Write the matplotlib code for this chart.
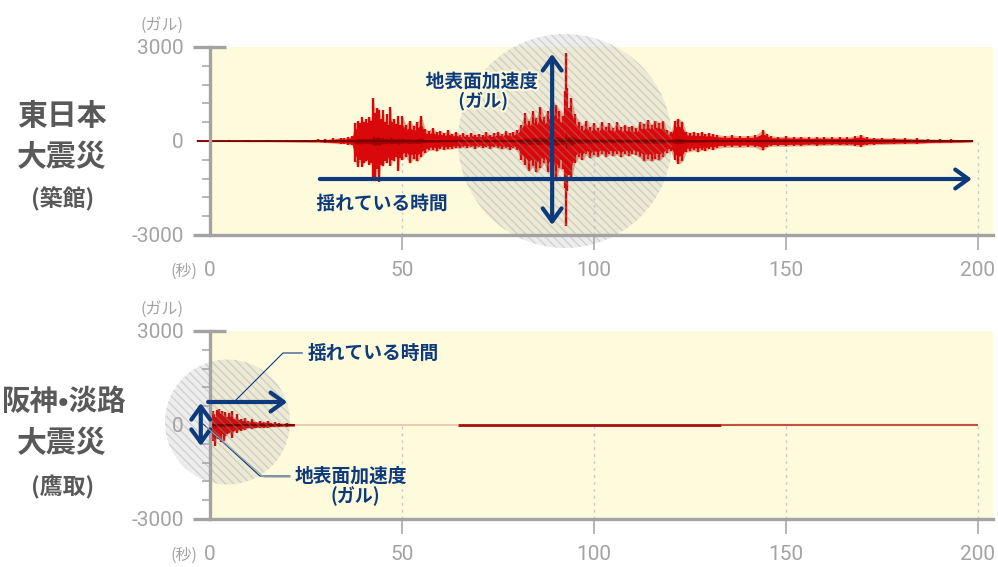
import matplotlib
matplotlib.use("Agg")
import matplotlib.pyplot as plt
import numpy as np
from matplotlib.patches import Ellipse
import matplotlib.patheffects as pe

# ---------------- data ----------------
# 2011 Tohoku (Tsukidate) : envelope of ground acceleration (gal)
east_t = [-3, 0, 5, 10, 15, 20, 25, 28, 30, 32, 34, 35, 36, 37, 37.8, 38.5, 39, 39.5, 40, 40.5,
          41, 41.5, 42, 42.5, 43, 43.5, 44, 44.5, 45, 45.5, 46, 46.5, 47, 47.5, 48, 48.5, 49, 49.5,
          50, 51, 52, 53, 54, 55, 56, 57, 58, 59, 60, 61, 62, 63, 64, 65, 66, 67, 68, 69, 70,
          71, 72, 73, 74, 75, 76, 77, 78, 79, 80, 81, 82, 83, 84, 85, 86, 87, 88, 89, 90, 91,
          92, 92.4, 92.55, 92.7, 92.85, 93.0, 93.5, 94, 95, 96, 97, 98, 99, 100, 101, 102, 103,
          104, 105, 106, 107, 108, 109, 110, 111, 112, 113, 114, 115, 116, 117, 118, 119, 120,
          121, 122, 123, 124, 125, 126, 127, 128, 129, 130, 131, 132, 134, 136, 138, 140, 142,
          144, 145, 146, 148, 150, 152, 154, 156, 158, 160, 162, 164, 166, 168, 169.5, 171, 173,
          175, 178, 181, 184, 187, 190, 193, 196, 198.5]
east_up = [20, 20, 20, 25, 25, 30, 35, 50, 60, 80, 110, 90, 130, 150, 560, 650, 560, 780, 600, 700,
           560, 780, 650, 1360, 900, 1050, 1000, 700, 1000, 600, 850, 500, 1090, 600, 700, 550, 800, 500,
           800, 520, 650, 480, 600, 800, 380, 330, 420, 280, 330, 250, 340, 230, 280, 200, 250, 180,
           260, 200, 230, 190, 280, 200, 240, 300, 210, 330, 240, 280, 350, 520, 880, 650, 950, 720,
           1100, 780, 950, 1300, 1150, 950, 800, 700, 1600, 2800, 1700, 800, 1050, 1360, 850, 620,
           480, 650, 450, 580, 420, 620, 460, 560, 420, 600, 440, 520, 450, 480, 400, 620, 550, 660,
           520, 650, 580, 640, 350, 300, 650, 700, 620, 300, 270, 290, 240, 280, 230, 260, 220, 200,
           170, 180, 160, 170, 180, 350, 230, 160, 140, 150, 130, 140, 120, 130, 130, 120, 130, 120,
           150, 200, 120, 110, 100, 100, 90, 80, 70, 60, 50, 40, 30]
east_dn = [20, 20, 20, 25, 25, 30, 35, 40, 50, 70, 90, 80, 120, 130, 660, 820, 600, 820, 700, 650,
           600, 750, 700, 1190, 1250, 900, 1300, 750, 800, 650, 700, 550, 800, 600, 650, 500, 950, 550,
           600, 500, 700, 560, 650, 500, 380, 300, 280, 330, 240, 280, 260, 250, 220, 230, 200, 220,
           190, 240, 180, 220, 200, 250, 190, 220, 260, 230, 280, 220, 300, 600, 750, 950, 800, 1000,
           850, 700, 1000, 900, 1250, 850, 900, 600, 1500, 2700, 1600, 700, 1100, 1250, 700, 520,
           600, 430, 550, 450, 500, 400, 520, 430, 480, 420, 520, 420, 480, 400, 450, 520, 650, 580,
           640, 560, 620, 500, 380, 320, 600, 720, 650, 350, 330, 300, 350, 280, 320, 250, 280, 230,
           200, 190, 200, 180, 200, 300, 200, 170, 160, 170, 150, 160, 140, 150, 140, 130, 140, 140,
           150, 180, 130, 120, 110, 100, 90, 90, 70, 60, 55, 45, 30]

# 1995 Kobe (Takatori)
kobe_t = [0, 0.3, 0.7, 1.0, 1.3, 1.7, 2.0, 2.4, 2.8, 3.2, 3.6, 4.0, 4.5, 5.0, 5.7, 6.2, 7.0, 7.5,
          8.0, 9.0, 10.0, 11.0, 12.0, 13.0, 14.0, 15.0, 16.0, 17.0, 18.0, 20.0, 22.0]
kobe_up = [0, 300, 450, 350, 250, 480, 300, 500, 350, 450, 300, 420, 250, 380, 450, 200, 340, 150,
           200, 230, 120, 180, 100, 130, 110, 130, 70, 80, 60, 70, 40]
kobe_dn = [0, 200, 500, 400, 670, 350, 450, 400, 550, 300, 500, 350, 300, 250, 400, 200, 250, 150,
           180, 150, 100, 130, 80, 90, 80, 80, 60, 60, 50, 50, 40]
kobe_tail_t = [22, 64.5, 133, 200]
kobe_tail_colors = ["#e2bf9f", "#a31010", "#c65040"]
kobe_tail_lw = [1.1, 2.0, 1.5]

x_ticks = [0, 50, 100, 150, 200]
y_ticks = [-3000, 0, 3000]
y_minor = [-2400, -1800, -1200, -600, 0, 600, 1200, 1800, 2400]

# ---------------- style ----------------
W, H = 998, 567
BG = "#fefadc"
GRAY = "#a3a3a3"
NAVY = "#0c3a7d"
TITLE = "#595959"
RED = "#d9080b"
CJK = ["Noto Sans CJK JP", "DejaVu Sans"]
NUM = ["Roboto", "DejaVu Sans"]

fig = plt.figure(figsize=(W / 100, H / 100), dpi=100)
fig.patch.set_facecolor("white")


def px(x, y):
    return x / W, 1 - y / H


def make_axes(top_px):
    left = 210 / W
    width = (993 - 210) / W
    height = 188 / H
    bottom = 1 - (top_px + 188) / H
    ax = fig.add_axes([left, bottom, width, height])
    ax.set_facecolor(BG)
    ax.set_xlim(0, 783 / 3.84)
    ax.set_ylim(-3000, 3000)
    for s in ["top", "right"]:
        ax.spines[s].set_visible(False)
    for s in ["left", "bottom"]:
        ax.spines[s].set_color(GRAY)
        ax.spines[s].set_linewidth(2.4)
        ax.spines[s].set_zorder(6)
    ax.set_xticks(x_ticks)
    ax.set_xticklabels([str(v) for v in x_ticks], fontfamily=NUM, fontsize=15, color=GRAY)
    ax.tick_params(axis="x", length=11, width=1.1, color=GRAY, pad=8)
    ax.xaxis.get_major_ticks()[0].tick1line.set_visible(False)
    ax.set_yticks(y_ticks)
    ax.set_yticklabels([str(v) for v in y_ticks], fontfamily=NUM, fontsize=15, color=GRAY)
    ax.tick_params(axis="y", length=0, pad=19)
    ax.set_yticks(y_minor, minor=True)
    ax.tick_params(axis="y", which="minor", length=5.5, width=1.1, color=GRAY)
    # dotted guide lines
    ax.vlines(x_ticks[1:], -3000, 0, colors="#c9c9c9", linestyles=(0, (2, 3)), lw=1, zorder=1)
    # extended top tick and bottom spine stub
    ax.plot([-17 / 3.84, 16 / 3.84], [3000, 3000], color=GRAY, lw=2.4, clip_on=False,
            solid_capstyle="butt", zorder=6)
    ax.plot([-17 / 3.84, 0], [-3000, -3000], color=GRAY, lw=2.4, clip_on=False,
            solid_capstyle="butt", zorder=6)
    ax.text(-27 / 3.84, 3000 + 22 / 0.03133, "(ガル)", fontfamily=CJK, fontsize=11.5,
            color=GRAY, ha="right", va="center")
    ax.text(-13 / 3.84, -3000 - 36 / 0.03133, "(秒)", fontfamily=CJK, fontsize=11.5,
            color=GRAY, ha="right", va="center", clip_on=False)
    return ax


def draw_wave(ax, t, up, dn, core=RED):
    t = np.asarray(t, float)
    up = np.asarray(up, float)
    dn = np.asarray(dn, float)
    ax.fill_between(t, -dn * 1.03, up * 1.03, color="#b84a2a", alpha=0.45, lw=0, zorder=2,
                    clip_on=False)
    ax.fill_between(t, -dn * 0.68, up * 0.68, color=core, lw=0, zorder=3, clip_on=False)
    ax.vlines(t, -dn, up, color=core, lw=1.7, zorder=3, clip_on=False)
    ax.fill_between(t, -dn * 0.12, up * 0.12, color="#8a0000", lw=0, alpha=0.7, zorder=3,
                    clip_on=False)
    ax.plot([t[0], t[-1]], [0, 0], color="#7a0000", lw=1.3, zorder=4, clip_on=False)


def halo():
    return [pe.withStroke(linewidth=3, foreground=BG)]


def add_circle(ax, center, rx, ry):
    # grey disc sits under the waveform, hatch lines run over it
    ax.add_patch(Ellipse(center, rx, ry, facecolor="#c4c4c4", alpha=0.3,
                         edgecolor="none", zorder=1.5, clip_on=False))
    ax.add_patch(Ellipse(center, rx, ry, facecolor="none",
                         edgecolor=(0.62, 0.62, 0.62, 0.35), lw=0, hatch="\\\\\\\\", zorder=5,
                         clip_on=False))


# ---------------- top panel ----------------
ax1 = make_axes(47)
draw_wave(ax1, east_t, east_up, east_dn)
add_circle(ax1, ((565 - 210) / 3.84, 0), 2 * 107 / 3.84, 2 * 107 / 0.03133)

arrow = dict(arrowstyle="->,head_length=0.47,head_width=0.34", color=NAVY, lw=3,
             shrinkA=0, shrinkB=0, mutation_scale=20)
arrow2 = dict(arrow, arrowstyle="<->,head_length=0.47,head_width=0.34")
ax1.annotate("", xy=(198.4, -1213), xytext=(28.6, -1213), arrowprops=arrow,
             annotation_clip=False, zorder=7)
ax1.annotate("", xy=(89.1, 2780), xytext=(89.1, -2680), arrowprops=arrow2,
             annotation_clip=False, zorder=7)
ax1.text(70.8, 1883, "地表面加速度", fontfamily=CJK, fontsize=13.5, fontweight="bold",
         color=NAVY, ha="center", va="center", zorder=8, path_effects=halo())
ax1.text(71.1, 1277, "(ガル)", fontfamily=CJK, fontsize=13, fontweight="bold",
         color=NAVY, ha="center", va="center", zorder=8, path_effects=halo())
ax1.text(44.8, -2011, "揺れている時間", fontfamily=CJK, fontsize=13.5, fontweight="bold",
         color=NAVY, ha="center", va="center", zorder=8, path_effects=halo())

# ---------------- bottom panel ----------------
ax2 = make_axes(331)
draw_wave(ax2, kobe_t, kobe_up, kobe_dn, core="#c81010")
for i in range(len(kobe_tail_colors)):
    ax2.plot(kobe_tail_t[i:i + 2], [0, 0], color=kobe_tail_colors[i], lw=kobe_tail_lw[i],
             zorder=3, solid_capstyle="butt")
add_circle(ax2, ((227.5 - 210) / 3.84, (424 - 421) / 0.03133), 2 * 62.5 / 3.84,
           2 * 62.5 / 0.03133)

ax2.annotate("", xy=(20.1, 734), xytext=(-0.5, 734), arrowprops=arrow,
             annotation_clip=False, zorder=7)
ax2.annotate("", xy=(-2.4, 702), xytext=(-2.4, -670), arrowprops=arrow2,
             annotation_clip=False, zorder=7)
# leader lines
ax2.plot([6.5, 19.0, 24.0], [766, 2298, 2298], color=NAVY, lw=0.8, clip_on=False, zorder=7)
ax2.plot([-1.8, 13.0, 20.8], [32, -1628, -1628], color=NAVY, lw=0.8, clip_on=False, zorder=7)
ax2.plot([-1.0, 14.0, 20.8], [-60, -1660, -1660], color="#9aa0aa", lw=0.8, clip_on=False, zorder=7)
ax2.text(25.5, 2298, "揺れている時間", fontfamily=CJK, fontsize=13.5, fontweight="bold",
         color=NAVY, ha="left", va="center", zorder=8)
ax2.text(22.1, -1628, "地表面加速度", fontfamily=CJK, fontsize=13.5, fontweight="bold",
         color=NAVY, ha="left", va="center", zorder=8)
ax2.text(37.8, -2266, "(ガル)", fontfamily=CJK, fontsize=13, fontweight="bold",
         color=NAVY, ha="center", va="center", zorder=8)

# ---------------- left titles ----------------
fig.text(*px(62, 116), "東日本", fontfamily=CJK, fontsize=21.5, fontweight="bold", color=TITLE,
         ha="center", va="center")
fig.text(*px(62, 157), "大震災", fontfamily=CJK, fontsize=21.5, fontweight="bold", color=TITLE,
         ha="center", va="center")
fig.text(*px(63, 199), "(築館)", fontfamily=CJK, fontsize=16.5, fontweight="bold", color=TITLE,
         ha="center", va="center")
fig.text(*px(64, 402), "阪神•淡路", fontfamily=CJK, fontsize=20.5, fontweight="bold", color=TITLE,
         ha="center", va="center")
fig.text(*px(62, 443), "大震災", fontfamily=CJK, fontsize=21.5, fontweight="bold", color=TITLE,
         ha="center", va="center")
fig.text(*px(63, 487), "(鷹取)", fontfamily=CJK, fontsize=16.5, fontweight="bold", color=TITLE,
         ha="center", va="center")

fig.savefig("out.png", dpi=100)
